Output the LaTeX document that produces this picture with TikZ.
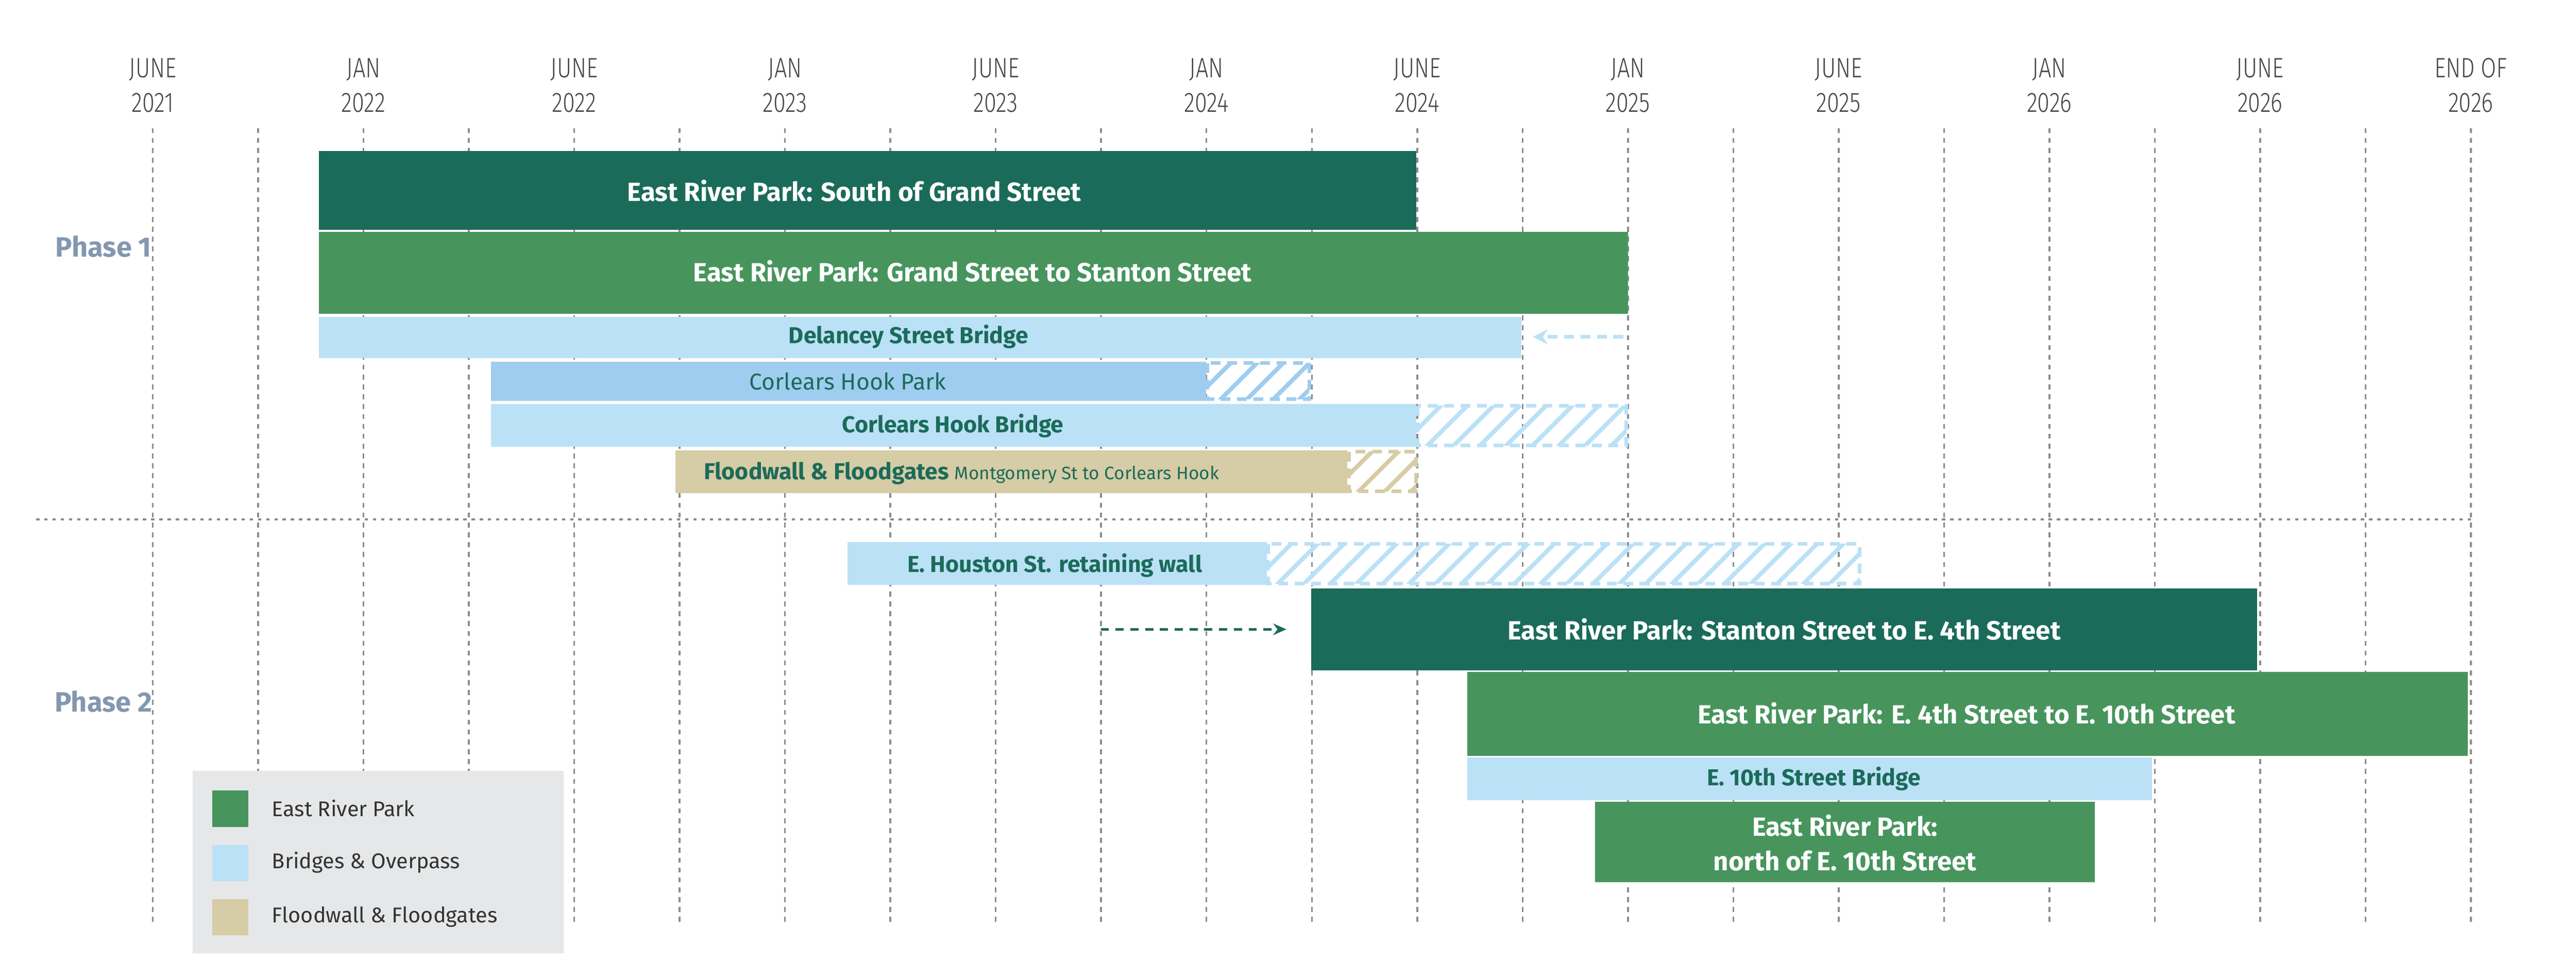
\documentclass[tikz,border=0pt]{standalone}
\usepackage{fontspec}
\setmainfont{Fira Sans}
\newfontfamily\datefont{Fira Sans Light}[FakeStretch=0.8]
\usetikzlibrary{arrows.meta}
\definecolor{dkg}{HTML}{1B6B5A}
\definecolor{mdg}{HTML}{47955D}
\definecolor{ltb}{HTML}{BBE1F6}
\definecolor{mdb}{HTML}{9FCDEF}
\definecolor{tan}{HTML}{D6CCA5}
\definecolor{phc}{HTML}{8497B0}
\definecolor{grd}{HTML}{8C8C8C}
\definecolor{lgd}{HTML}{E6E7E8}
\newcommand\hatchbox[5]{%
  \begin{scope}
    \clip (#1+1,#2+1) rectangle (#3-1,#4-1);
    \pgfmathsetmacro\hh{#4-#2}
    \foreach \x in {#1,16,...,#3} {}%
    \pgfmathtruncatemacro\xs{#1-\hh}
    \pgfmathtruncatemacro\xn{#1-\hh+16}
    \foreach \x in {\xs,\xn,...,#3} {\draw[#5,line width=2.6pt] ({\x},#4) -- ({\x+\hh},#2);}
  \end{scope}
  \draw[#5,line width=2.2pt,dash pattern=on 6pt off 4pt] (#1+1,#2+1) rectangle (#3-1,#4-1);
}
\begin{document}
\begin{tikzpicture}[x=1pt,y=-1pt,
  datelbl/.style={font=\datefont\fontsize{17}{21}\selectfont,text=black!72,align=center,anchor=center},
  gridln/.style={grd,line width=1.1pt,dash pattern=on 3pt off 3pt},
  bar/.style={anchor=north west,inner sep=0pt,outer sep=0pt,minimum height=#1,text=white,font=\bfseries\fontsize{16}{19}\selectfont},
  sbar/.style={anchor=north west,inner sep=0pt,outer sep=0pt,minimum height=25pt,text=dkg,font=\bfseries\fontsize{14}{17}\selectfont},
  phase/.style={text=phc,font=\bfseries\fontsize{17}{20}\selectfont},
  lgtxt/.style={anchor=west,font=\fontsize{13}{16}\selectfont,text=black!80}]
\useasboundingbox (0,0) rectangle (1568,595);
% grid
\foreach \k in {0,...,22} {\draw[gridln] ({93+64.136*\k},78) -- ({93+64.136*\k},562);}
\foreach \k/\a/\b [count=\i] in {0/JUNE/2021,1/JAN/2022,2/JUNE/2022,3/JAN/2023,4/JUNE/2023,5/JAN/2024,6/JUNE/2024,7/JAN/2025,8/JUNE/2025,9/JAN/2026,10/JUNE/2026,11/END OF/2026}
  {\node[datelbl] (d\i) at ({93+128.27*\k},52) {\a\\\b};}
\draw[grd,line width=1.3pt,dash pattern=on 2pt off 3pt] (22,316) -- (1505,316);
\node[phase] (p1) at (63,150) {Phase 1};
\node[phase] (p2) at (63,427) {Phase 2};
% phase 1
\node[bar=48pt,fill=dkg,minimum width=668pt] (b1) at (194,92) {};
\node[text=white,font=\bfseries\fontsize{16}{19}\selectfont] (t1) at (520,116) {East River Park: South of Grand Street};
\node[bar=50pt,fill=mdg,minimum width=797pt] (b2) at (194,141) {};
\node[text=white,font=\bfseries\fontsize{16}{19}\selectfont] (t2) at (592,165) {East River Park: Grand Street to Stanton Street};
\node[sbar,fill=ltb,minimum width=732pt] (b3) at (194,193) {};
\node[text=dkg,font=\bfseries\fontsize{14}{17}\selectfont] (t3) at (553,205) {Delancey Street Bridge};
\coordinate (a3s) at (988,205); \coordinate (a3e) at (933,205);
\draw[ltb,line width=2.2pt,dash pattern=on 6pt off 4pt,-{Stealth[length=9pt,width=9pt]}] (a3s) -- (a3e);
\node[sbar,fill=mdb,minimum width=435pt,minimum height=24pt] (b4) at (299,220) {};
\node[text=dkg,font=\fontsize{14}{17}\selectfont] (t4) at (516,232) {Corlears Hook Park};
\hatchbox{734}{220}{798}{244}{mdb}
\node[sbar,fill=ltb,minimum width=563pt,minimum height=26pt] (b5) at (299,246) {};
\node[text=dkg,font=\bfseries\fontsize{14}{17}\selectfont] (t5) at (580,259) {Corlears Hook Bridge};
\hatchbox{862}{246}{991}{272}{ltb}
\node[sbar,fill=tan,minimum width=409pt,minimum height=26pt] (b6) at (411,274) {};
\node[text=dkg,anchor=west] (t6) at (425,288) {\bfseries\fontsize{14}{17}\selectfont Floodwall \& Floodgates \normalfont\fontsize{11}{13}\selectfont Montgomery St to Corlears Hook};
\hatchbox{820}{274}{863}{300}{tan}
% phase 2
\node[sbar,fill=ltb,minimum width=255pt,minimum height=26pt] (b7) at (516,330) {};
\node[text=dkg,font=\bfseries\fontsize{14}{17}\selectfont] (t7) at (642,344) {E. Houston St. retaining wall};
\hatchbox{771}{330}{1133}{356}{ltb}
\coordinate (a8s) at (670,383); \coordinate (a8e) at (783,383);
\draw[dkg,line width=1.4pt,dash pattern=on 5pt off 4pt,-{Stealth[length=8pt,width=7pt]}] (a8s) -- (a8e);
\node[bar=50pt,fill=dkg,minimum width=576pt] (b9) at (798,358) {};
\node[text=white,font=\bfseries\fontsize{16}{19}\selectfont] (t9) at (1086,383) {East River Park: Stanton Street to E. 4th Street};
\node[bar=51pt,fill=mdg,minimum width=609pt] (b10) at (893,409) {};
\node[text=white,font=\bfseries\fontsize{16}{19}\selectfont] (t10) at (1197,434) {East River Park: E. 4th Street to E. 10th Street};
\node[sbar,fill=ltb,minimum width=417pt,minimum height=26pt] (b11) at (893,461) {};
\node[text=dkg,font=\bfseries\fontsize{14}{17}\selectfont] (t11) at (1104,474) {E. 10th Street Bridge};
\node[bar=49pt,fill=mdg,minimum width=304pt] (b12) at (971,488) {};
\node[text=white,align=center,font=\bfseries\fontsize{16}{21}\selectfont] (t12) at (1123,513) {East River Park:\\north of E. 10th Street};
% legend
\node[anchor=north west,fill=lgd,minimum width=226pt,minimum height=111pt,inner sep=0pt] (lg) at (117,469) {};
\node[anchor=north west,fill=mdg,minimum width=22pt,minimum height=22pt,inner sep=0pt] (s1) at (129,481) {};
\node[anchor=north west,fill=ltb,minimum width=22pt,minimum height=22pt,inner sep=0pt] (s2) at (129,514) {};
\node[anchor=north west,fill=tan,minimum width=22pt,minimum height=22pt,inner sep=0pt] (s3) at (129,547) {};
\node[lgtxt] (l1) at (162,492) {East River Park};
\node[lgtxt] (l2) at (162,525) {Bridges \& Overpass};
\node[lgtxt] (l3) at (162,558) {Floodwall \& Floodgates};
\end{tikzpicture}
\end{document}
